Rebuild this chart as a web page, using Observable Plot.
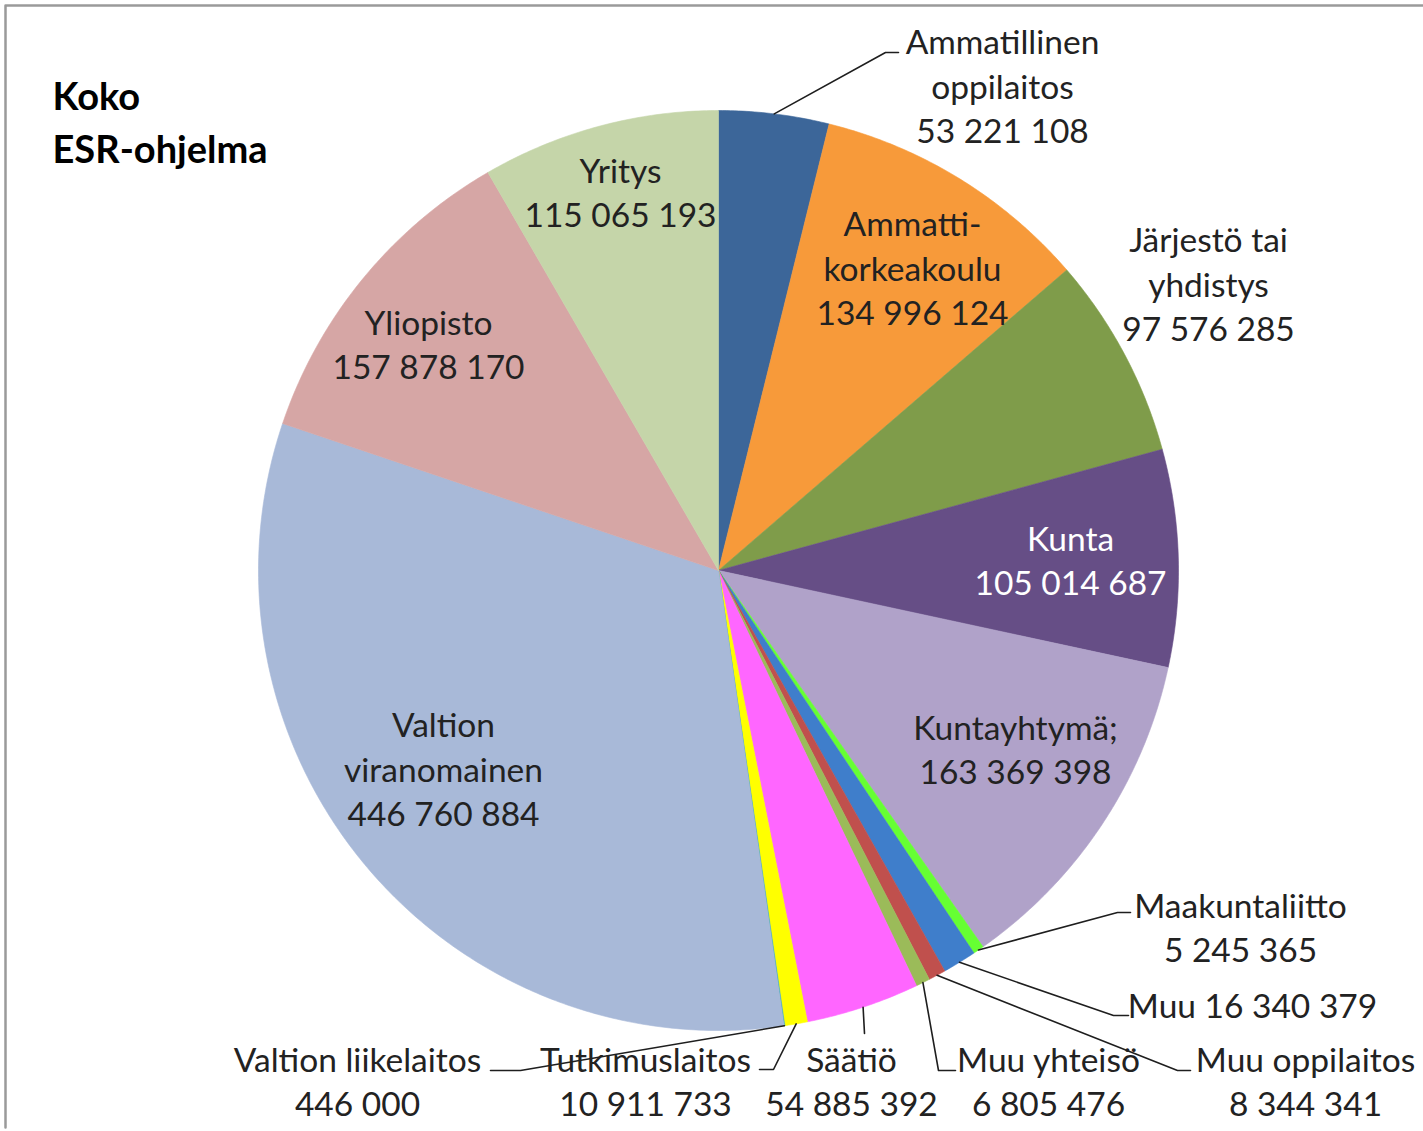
<!DOCTYPE html>
<html>
<head>
<meta charset="utf-8">
<script src="https://cdn.jsdelivr.net/npm/d3@7"></script>
<script src="https://cdn.jsdelivr.net/npm/@observablehq/plot@0.6"></script>
<style>
  html, body { margin: 0; padding: 0; background: #fff; }
  #chart svg { display: block; }
</style>
</head>
<body>
<div id="chart"></div>
<script>
// ---------- DATA ----------
const categories = [
  "Ammatillinen oppilaitos", "Ammattikorkeakoulu", "Järjestö tai yhdistys", "Kunta",
  "Kuntayhtymä", "Maakuntaliitto", "Muu", "Muu oppilaitos", "Muu yhteisö", "Säätiö",
  "Tutkimuslaitos", "Valtion liikelaitos", "Valtion viranomainen", "Yliopisto", "Yritys"
];
const values = [
  53221108, 134996124, 97576285, 105014687,
  163369398, 5245365, 16340379, 8344341, 6805476, 54885392,
  10911733, 446000, 446760884, 157878170, 115065193
];
const labelNames = [
  "Ammatillinen\noppilaitos", "Ammatti-\nkorkeakoulu", "Järjestö tai\nyhdistys", "Kunta",
  "Kuntayhtymä;", "Maakuntaliitto", "Muu", "Muu oppilaitos", "Muu yhteisö", "Säätiö",
  "Tutkimuslaitos", "Valtion liikelaitos", "Valtion\nviranomainen", "Yliopisto", "Yritys"
];
const colors = [
  "#3C6699", "#F79A3A", "#7F9C4A", "#664E86",
  "#B0A2C9", "#66FF33", "#3F7ECB", "#C0504D", "#9BBB59", "#FF66FF",
  "#FFFF00", "#4BACC6", "#A8B9D8", "#D6A6A5", "#C5D5A9"
];
const titleLines = ["Koko", "ESR-ohjelma"];

// ---------- LAYOUT (positions / styles, not data) ----------
const W = 1423, H = 1131;
const pie = {cx: 718, cy: 570, r: 460};
const labelLayout = {
  "Ammatillinen oppilaitos": {x: 1002, y: 84, sep: "\n"},
  "Ammattikorkeakoulu":      {x: 912,  y: 266, sep: "\n"},
  "Järjestö tai yhdistys":   {x: 1208, y: 282, sep: "\n"},
  "Kunta":                   {x: 1070, y: 558, sep: "\n", color: "#ffffff"},
  "Kuntayhtymä":             {x: 1015, y: 747, sep: "\n"},
  "Maakuntaliitto":          {x: 1240, y: 925, sep: "\n"},
  "Muu":                     {x: 1252, y: 1003, sep: " "},
  "Muu oppilaitos":          {x: 1305, y: 1079, sep: "\n"},
  "Muu yhteisö":             {x: 1048, y: 1079, sep: "\n"},
  "Säätiö":                  {x: 851,  y: 1079, sep: "\n"},
  "Tutkimuslaitos":          {x: 645,  y: 1079, sep: "\n"},
  "Valtion liikelaitos":     {x: 357,  y: 1079, sep: "\n"},
  "Valtion viranomainen":    {x: 443,  y: 767, sep: "\n"},
  "Yliopisto":               {x: 428,  y: 342, sep: "\n"},
  "Yritys":                  {x: 620,  y: 190, sep: "\n"}
};
// leader line bend/end points (start point is the slice edge at its mid-angle)
const leaderLayout = {
  "Ammatillinen oppilaitos": [[885, 52], [898, 52]],
  "Maakuntaliitto":          [[1117, 912], [1130, 912]],
  "Muu":                     [[1113, 1015], [1128, 1015]],
  "Muu oppilaitos":          [[1177, 1070], [1190, 1070]],
  "Muu yhteisö":             [[938, 1070], [955, 1070]],
  "Säätiö":                  [[864, 1033]],
  "Tutkimuslaitos":          [[773, 1069], [759, 1069]],
  "Valtion liikelaitos":     [[520, 1070], [490, 1070]]
};

// ---------- BUILD ----------
const fmt = v => d3.format(",")(v).replace(/,/g, " ");
const arcs = d3.pie().sort(null).value(d => d.value).startAngle(0).endAngle(2 * Math.PI)(
  categories.map((c, i) => ({name: c, value: values[i], label: labelNames[i]}))
);
const px = a => pie.cx + pie.r * Math.sin(a);
const py = a => pie.cy - pie.r * Math.cos(a);

const slicePts = [];
for (const a of arcs) {
  const name = a.data.name;
  slicePts.push({name, x: pie.cx, y: pie.cy});
  const n = Math.max(2, Math.ceil((a.endAngle - a.startAngle) / (Math.PI / 360)));
  for (let k = 0; k <= n; k++) {
    const t = a.startAngle + (a.endAngle - a.startAngle) * k / n;
    slicePts.push({name, x: px(t), y: py(t)});
  }
  slicePts.push({name, x: pie.cx, y: pie.cy});
}

const labels = arcs.map(a => {
  const L = labelLayout[a.data.name];
  return {name: a.data.name, x: L.x, y: L.y, color: L.color || "#222222",
          text: a.data.label + L.sep + fmt(a.data.value)};
});

const leaderPts = [];
for (const a of arcs) {
  const pts = leaderLayout[a.data.name];
  if (!pts) continue;
  const mid = (a.startAngle + a.endAngle) / 2;
  leaderPts.push({name: a.data.name, x: px(mid), y: py(mid)});
  for (const [x, y] of pts) leaderPts.push({name: a.data.name, x, y});
}

const frame = [{x: 5, y: H - 4}, {x: 5, y: 5}, {x: W, y: 5}];

const chart = Plot.plot({
  width: W,
  height: H,
  margin: 0,
  style: {background: "#fff", overflow: "visible"},
  x: {domain: [0, W], range: [0, W], axis: null},
  y: {domain: [0, H], range: [0, H], axis: null},
  color: {domain: categories, range: colors},
  marks: [
    Plot.line(frame, {x: "x", y: "y", stroke: "#9a9a9a", strokeWidth: 2.5}),
    Plot.line(slicePts, {x: "x", y: "y", z: "name", fill: "name", stroke: "name", strokeWidth: 0.6, curve: "linear"}),
    Plot.line(leaderPts, {x: "x", y: "y", z: "name", stroke: "#1e1e1e", strokeWidth: 1.6}),
    Plot.text(labels, {
      x: "x", y: "y", text: "text", fill: d => d.color,
      fontFamily: "Lato", fontSize: 33.5, lineHeight: 1.32, textAnchor: "middle", lineAnchor: "middle"
    }),
    Plot.text(titleLines, {
      x: 52, y: (d, i) => 97 + i * 53, text: d => d,
      fontFamily: "Lato", fontWeight: "bold", fontSize: 38, textAnchor: "start", lineAnchor: "middle", fill: "#000"
    })
  ]
});
document.getElementById("chart").appendChild(chart);
</script>
</body>
</html>
